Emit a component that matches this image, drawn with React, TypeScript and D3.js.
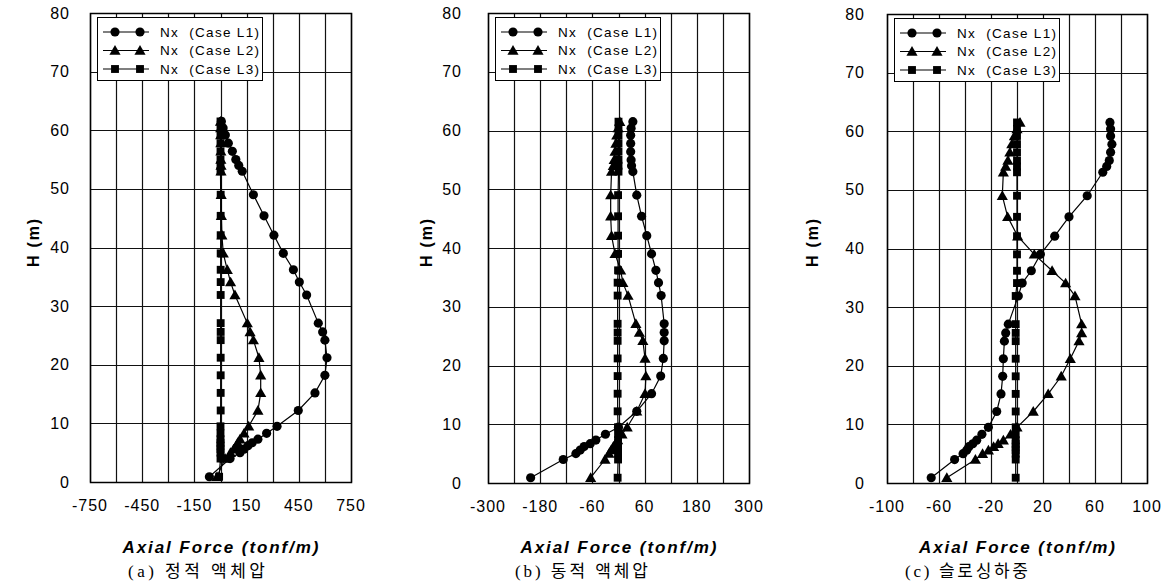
import React, { useEffect, useRef } from "react";
import * as d3 from "d3";

// Node heights (m), shared by every load case
const heights = [0.9, 4.0, 5.0, 5.6, 6.2, 6.7, 7.3, 8.3, 9.5, 12.2, 15.2, 18.2, 21.2, 24.2, 25.6, 27.1, 31.9, 34.1, 36.2, 39.0, 42.1, 45.4, 49.0, 53.0, 54.0, 55.0, 56.4, 57.8, 59.2, 60.4, 61.5];

// (a) static hydrodynamic pressure
const staticL1 = [-64, 55, 112, 135, 158, 182, 215, 265, 325, 447, 543, 600, 612, 600, 587, 562, 495, 453, 419, 361, 307, 250, 189, 125, 105, 88, 68, 45, 28, 15, 5];
const staticL2 = [-20, 26, 57, 75, 90, 99, 112, 135, 162, 215, 231, 231, 221, 189, 170, 154, 83, 58, 39, 16, 8, 5, 4, 3, 3, 2, 2, 2, 1, 1, 0];
const staticL3 = [-8, 0, 0, 0, 0, 0, 0, 0, 0, 1, 1, 1, 1, 1, 1, 1, 1, 1, 1, 1, 1, 1, 1, 0, 0, 0, 0, 0, 0, 0, 0];

// (b) dynamic hydrodynamic pressure
const dynamicL1 = [-202, -127, -98, -88, -79, -65, -52, -30, 0, 42, 76, 97, 103, 105, 105, 105, 98, 92, 86, 76, 65, 53, 42, 33, 30, 29, 28, 28, 28, 29, 33];
const dynamicL2 = [-64, -31, -22, -17, -12, -7, -2, 8, 20, 42, 61, 63, 61, 56, 48, 40, 22, 10, 5, -8, -16, -18, -18, -16, -12, -10, -8, -6, -4, -1, 3];
const dynamicL3 = [-2, -1, -1, -1, -1, -1, -1, -1, -1, -2, -2, -2, -2, -2, -2, -2, -2, -2, -1, -1, -1, -1, -1, 0, 0, 0, 0, 0, 0, 0, 0];

// (c) sloshing load
const sloshL1 = [-66, -48, -41.5, -38.7, -37, -34, -31, -27, -22, -15.6, -12.3, -11, -10.5, -9.7, -8.7, -6.7, 1, 4, 11, 18, 29, 40, 54, 66, 69, 71, 72, 73, 72, 72, 71.5];
const sloshL2 = [-54, -32, -26.5, -22, -18, -14.5, -10.5, -5, 0, 12.5, 24, 34, 41, 47.7, 49.7, 49.7, 44.6, 37.4, 27, 13.3, 0.5, -7.2, -11.3, -10.5, -8.7, -7, -5.5, -4, -2, 0, 2.3];
const sloshL3 = [-1, -1, -1, -1, -1, -1, -1, -1, -1, -1, -1, -1, -1, -1, -1, -1, -1, 0, 0, 0, 0, 0, 0, 0, 0, 0, 0, 0, 0, 0, 0];

const caseNames = ["Nx\u00a0\u00a0(Case L1)", "Nx\u00a0\u00a0(Case L2)", "Nx\u00a0\u00a0(Case L3)"];
const yTicks = [0, 10, 20, 30, 40, 50, 60, 70, 80];
const xTicksA = [-750, -450, -150, 150, 450, 750];
const xTicksB = [-300, -180, -60, 60, 180, 300];
const xTicksC = [-100, -60, -20, 20, 60, 100];
const captions = ["(a) 정적 액체압", "(b) 동적 액체압", "(c) 슬로싱하중"];

const panels = [
  { series: [staticL1, staticL2, staticL3], domain: [-750, 750], step: 150, ticks: xTicksA, caption: captions[0],
    left: 90, right: 351, top: 13, bottom: 482, yLabelRight: 70, hLabelX: 33, captionX: 128, captionW: 137 },
  { series: [dynamicL1, dynamicL2, dynamicL3], domain: [-300, 300], step: 60, ticks: xTicksB, caption: captions[1],
    left: 488, right: 749, top: 13, bottom: 483, yLabelRight: 462, hLabelX: 426, captionX: 515, captionW: 133 },
  { series: [sloshL1, sloshL2, sloshL3], domain: [-100, 100], step: 20, ticks: xTicksC, caption: captions[2],
    left: 887, right: 1147, top: 14, bottom: 483, yLabelRight: 865, hLabelX: 812, captionX: 905, captionW: 123 },
];

const symbolTypes = [d3.symbolCircle, d3.symbolTriangle, d3.symbolSquare];
const symbolSizes = [66, 54, 62];
const sansFont = "'Liberation Sans', Arial, sans-serif";

function drawChart(node: SVGSVGElement | null) {
  if (!node) return;
  const svg = d3.select(node);
  svg.selectAll("*").remove();

  panels.forEach(p => {
    const g = svg.append("g");

    const x = d3.scaleLinear().domain(p.domain).range([p.left, p.right]);
    const y = d3.scaleLinear().domain([0, 80]).range([p.bottom, p.top]);

    // Grid
    const xGrid = d3.range(p.domain[0], p.domain[1] + p.step / 2, p.step);
    g.selectAll(".vgrid")
      .data(xGrid)
      .enter()
      .append("line")
      .attr("x1", d => Math.round(x(d)) + 0.5)
      .attr("x2", d => Math.round(x(d)) + 0.5)
      .attr("y1", p.top)
      .attr("y2", p.bottom)
      .attr("stroke", "#111")
      .attr("stroke-width", 1.2);

    g.selectAll(".hgrid")
      .data(yTicks)
      .enter()
      .append("line")
      .attr("x1", p.left)
      .attr("x2", p.right)
      .attr("y1", d => Math.round(y(d)) + 0.5)
      .attr("y2", d => Math.round(y(d)) + 0.5)
      .attr("stroke", "#111")
      .attr("stroke-width", 1.2);

    // Plot frame
    g.append("rect")
      .attr("x", p.left + 0.5)
      .attr("y", p.top + 0.5)
      .attr("width", p.right - p.left)
      .attr("height", p.bottom - p.top)
      .attr("fill", "none")
      .attr("stroke", "#000")
      .attr("stroke-width", 1.5);

    // Series
    const line = d3.line<number>()
      .x(d => x(d))
      .y((d, i) => y(heights[i]));

    p.series.forEach((values, si) => {
      g.append("path")
        .datum(values)
        .attr("d", line)
        .attr("fill", "none")
        .attr("stroke", "#000")
        .attr("stroke-width", 1.2);

      const sym = d3.symbol().type(symbolTypes[si]).size(symbolSizes[si]);
      g.selectAll(".m" + si)
        .data(values)
        .enter()
        .append("path")
        .attr("d", sym)
        .attr("transform", (d, i) => `translate(${x(d)},${y(heights[i]) + (si === 1 ? 1 : 0)})`)
        .attr("fill", "#000");
    });

    // Legend
    const legend = g.append("g").attr("transform", `translate(${p.left + 7},${p.top + 4})`);
    legend.append("rect")
      .attr("x", 0.5)
      .attr("y", 0.5)
      .attr("width", 165)
      .attr("height", 63)
      .attr("fill", "#fff")
      .attr("stroke", "#000")
      .attr("stroke-width", 1);

    const items = legend.selectAll(".legend-item")
      .data(caseNames)
      .enter()
      .append("g")
      .attr("transform", (d, i) => `translate(0,${15 + i * 18.5})`);

    items.append("line")
      .attr("x1", 6)
      .attr("x2", 52)
      .attr("y1", 0)
      .attr("y2", 0)
      .attr("stroke", "#000")
      .attr("stroke-width", 1.2);

    items.each(function (d, i) {
      const sym = d3.symbol().type(symbolTypes[i]).size(symbolSizes[i]);
      [18, 43].forEach(cx => {
        d3.select(this).append("path")
          .attr("d", sym)
          .attr("transform", `translate(${cx},${i === 1 ? 1 : 0})`)
          .attr("fill", "#000");
      });
    });

    items.append("text")
      .attr("x", 63)
      .attr("y", 0)
      .attr("dy", "0.35em")
      .attr("font-family", sansFont)
      .attr("font-size", 13.5)
      .attr("textLength", 99)
      .attr("lengthAdjust", "spacing")
      .text(d => d);

    // Y tick labels
    g.selectAll(".ylab")
      .data(yTicks)
      .enter()
      .append("text")
      .attr("x", p.yLabelRight)
      .attr("y", d => y(d))
      .attr("dy", "0.35em")
      .attr("text-anchor", "end")
      .attr("font-family", sansFont)
      .attr("font-size", 16)
      .attr("letter-spacing", 1)
      .text(d => d);

    // X tick labels
    g.selectAll(".xlab")
      .data(p.ticks)
      .enter()
      .append("text")
      .attr("x", d => x(d))
      .attr("y", p.bottom + 29)
      .attr("text-anchor", "middle")
      .attr("font-family", sansFont)
      .attr("font-size", 16)
      .attr("letter-spacing", 1)
      .text(d => d);

    // Axis titles
    const cx = (p.left + p.right) / 2;
    g.append("text")
      .attr("x", cx - 98)
      .attr("y", 553)
      .attr("font-family", sansFont)
      .attr("font-size", 17)
      .attr("font-weight", "bold")
      .attr("font-style", "italic")
      .attr("textLength", 196)
      .attr("lengthAdjust", "spacing")
      .text("Axial Force (tonf/m)");

    g.append("text")
      .attr("transform", `translate(${p.hLabelX},267) rotate(-90)`)
      .attr("dy", "0.35em")
      .attr("font-family", sansFont)
      .attr("font-size", 16)
      .attr("font-weight", "bold")
      .attr("textLength", 48)
      .attr("lengthAdjust", "spacing")
      .text("H (m)");

    // Caption
    g.append("text")
      .attr("x", p.captionX)
      .attr("y", 577)
      .attr("font-family", "'Liberation Serif', 'Noto Sans CJK KR', serif")
      .attr("font-size", 17)
      .attr("textLength", p.captionW)
      .attr("lengthAdjust", "spacing")
      .text(p.caption);
  });
}

export default function App() {
  const svgRef = useRef<SVGSVGElement>(null);

  useEffect(() => {
    drawChart(svgRef.current);
  }, []);

  return (
    <svg
      ref={svgRef}
      width={1162}
      height={588}
      style={{ position: "absolute", left: 0, top: 0, background: "#fff" }}
    />
  );
}
